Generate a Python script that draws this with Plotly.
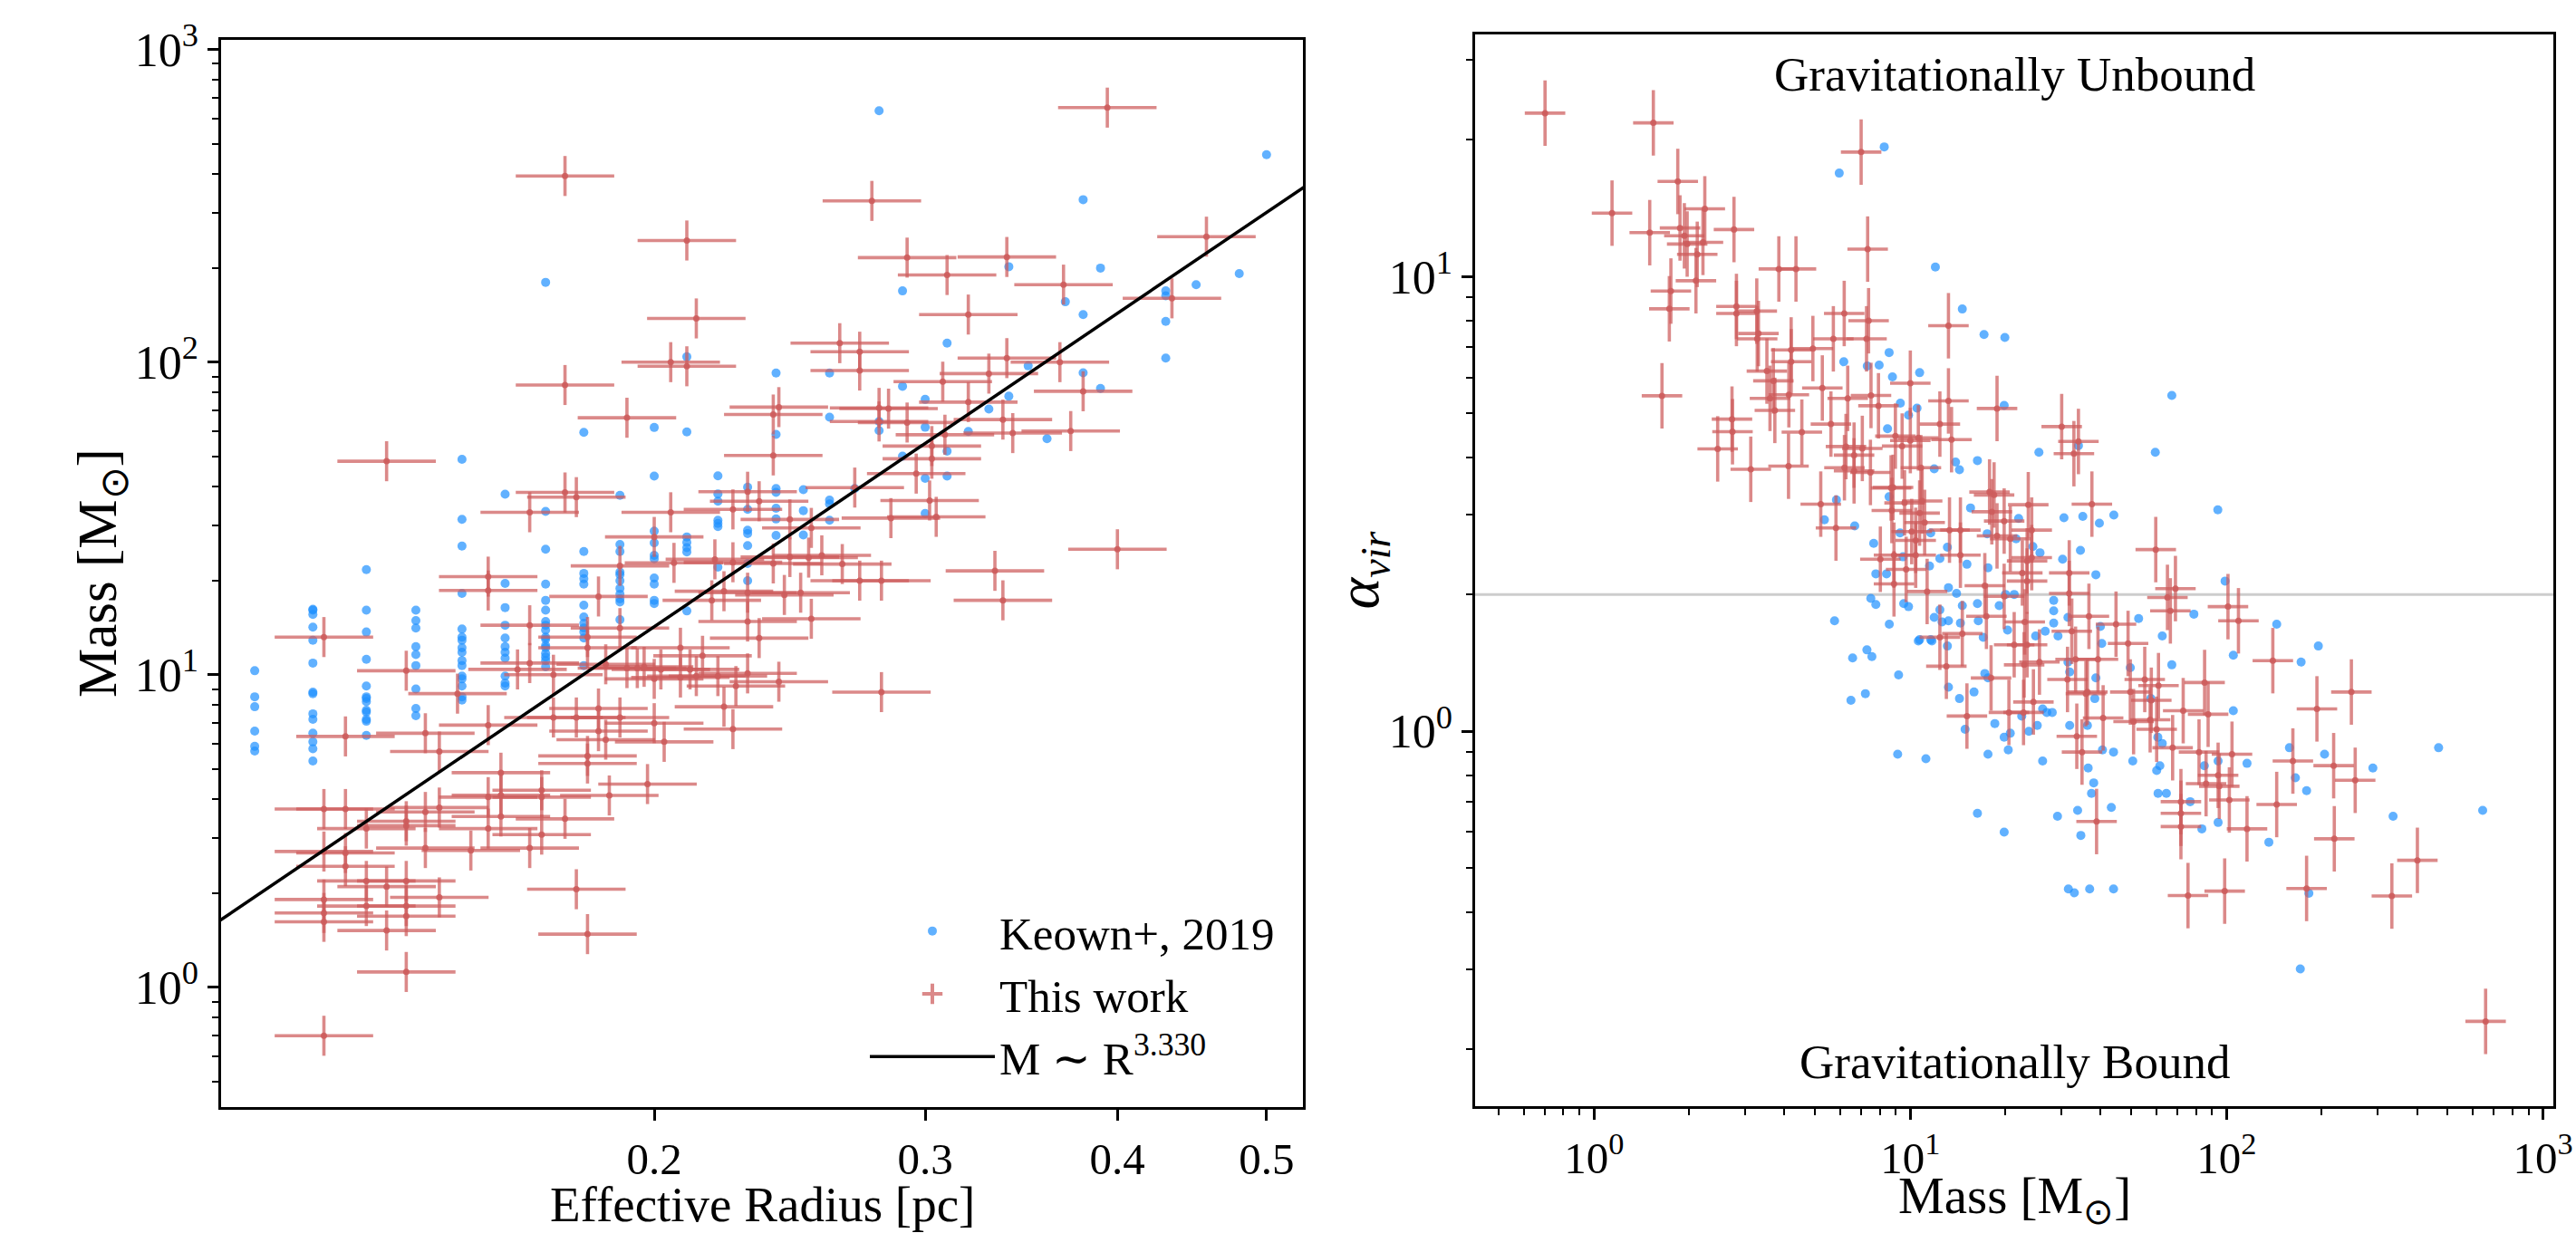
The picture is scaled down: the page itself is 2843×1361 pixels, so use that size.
import numpy as np
import plotly.graph_objects as go

# ---------------- data: left panel (Effective radius vs Mass) ----------------
# Keown+ 2019 cores: radii are quantised in 0.01 pc steps; masses listed per radius column
keown_radius_cols = [0.11, 0.12, 0.13, 0.14, 0.15, 0.16, 0.17, 0.18, 0.19, 0.20,
                     0.21, 0.22, 0.23, 0.24, 0.25, 0.26, 0.27, 0.28, 0.29, 0.30,
                     0.31, 0.32, 0.33, 0.34, 0.35, 0.36, 0.37, 0.38, 0.39, 0.43,
                     0.45, 0.48, 0.50]
keown_mass_cols = [
    [10.3, 8.5, 7.9, 6.6, 5.9, 5.7],
    [16.2, 16.1, 15.6, 14.2, 12.9, 10.9, 8.8, 8.7, 7.5, 7.2, 6.5, 6.1, 5.8, 5.3],
    [21.7, 16.1, 13.7, 11.2, 9.2, 8.5, 8.4, 8.2, 7.7, 7.6, 7.2, 7.1, 6.4],
    [16.1, 14.9, 14.1, 12.3, 11.6, 10.7, 9.0, 7.8, 7.4],
    [48.9, 31.4, 25.8, 18.2, 14.0, 13.2, 12.9, 12.2, 11.8, 11.1, 10.7, 9.9, 9.7, 9.2, 8.5, 8.3],
    [37.8, 19.6, 16.4, 14.4, 13.1, 12.3, 11.8, 11.3, 9.9, 9.4, 9.2],
    [180, 33.3, 25.2, 19.5, 17.3, 16.1, 14.8, 14.4, 13.9, 13.2, 13.0, 12.4, 12.2, 11.7, 11.4, 11.1, 10.6],
    [59.6, 24.8, 21.1, 20.3, 19.5, 16.7, 15.3, 14.6, 14.1, 13.7, 13.1, 10.7],
    [37.5, 26.1, 24.8, 21.3, 20.9, 20.0, 18.9, 18.1, 17.5, 17.1, 15.0],
    [61.8, 43.2, 28.8, 26.4, 24.1, 23.5, 20.4, 19.5, 17.3, 16.9],
    [104, 59.8, 27.6, 26.5, 25.5, 24.7, 16.0],
    [43.3, 37.9, 35.9, 31.2, 30.5, 29.8, 22.1],
    [39.8, 33.8, 29.0, 28.3, 25.9, 22.7, 20.0],
    [92.3, 58.7, 39.4, 38.3, 34.1, 31.5, 27.9],
    [39.1, 33.5, 28.0],
    [92.3, 66.7, 36.2, 35.2, 31.2],
    [39.4],
    [637, 64.6, 60.4],
    [169, 83.7, 50],
    [76, 61.9, 42.5, 32.8],
    [115, 51.9, 43.2],
    [60],
    [70.8],
    [202, 77.8],
    [97.3],
    [56.9],
    [156],
    [331, 142, 92.5],
    [200, 82.4],
    [169, 163, 135, 103],
    [177],
    [192],
    [461],
]

# This work: effective radius [pc] and mass [Msun]
tw_radius = [0.175, 0.210, 0.213, 0.205, 0.210, 0.175, 0.192, 0.134, 0.241, 0.239,
             0.239, 0.264, 0.394, 0.277, 0.457, 0.292, 0.339, 0.310, 0.369, 0.434,
             0.320, 0.272, 0.272, 0.339, 0.367, 0.330, 0.308, 0.380, 0.280, 0.284,
             0.320, 0.292, 0.280, 0.337, 0.342, 0.309, 0.373, 0.303, 0.303, 0.296,
             0.270, 0.302, 0.305, 0.285, 0.400, 0.333, 0.337, 0.175, 0.178, 0.166,
             0.205, 0.200, 0.225, 0.230, 0.234, 0.245, 0.253, 0.190, 0.206, 0.219,
             0.225, 0.239, 0.245, 0.252, 0.257, 0.218, 0.222, 0.230, 0.230, 0.234,
             0.243, 0.249, 0.253, 0.184, 0.156, 0.156, 0.166, 0.190, 0.181, 0.181,
             0.122, 0.138, 0.149, 0.163, 0.166, 0.172, 0.186, 0.192, 0.195, 0.197,
             0.200, 0.202, 0.208, 0.208, 0.211, 0.213, 0.215, 0.220, 0.226, 0.230,
             0.241, 0.222, 0.225, 0.200, 0.203, 0.190, 0.186, 0.184, 0.184, 0.181,
             0.181, 0.178, 0.172, 0.156, 0.159, 0.198, 0.187, 0.169, 0.169, 0.156,
             0.145, 0.145, 0.142, 0.126, 0.122, 0.126, 0.159, 0.159, 0.142, 0.138,
             0.138, 0.130, 0.156, 0.169, 0.175, 0.142, 0.152, 0.166, 0.122, 0.126,
             0.126, 0.130, 0.134, 0.138, 0.145, 0.122, 0.130, 0.138, 0.122, 0.138,
             0.122, 0.134, 0.178, 0.181, 0.138, 0.122, 0.281, 0.281, 0.272, 0.265]
tw_mass = [394, 245, 138, 100, 97, 84.5, 66.4, 48.2, 71.8, 68,
           50.3, 115, 652, 328, 252, 216, 217, 190, 177, 160,
           142, 108, 94, 103, 100, 91.9, 86.6, 80.7, 71.4, 71,
           74.5, 64.1, 64.6, 65.5, 59.3, 58.6, 60.2, 53.9, 49.1, 44.0,
           39.7, 36.1, 32.0, 31.7, 25.2, 21.5, 17.3, 38.3, 37.0, 33.1,
           33.1, 27.6, 33.8, 38.5, 35.9, 31.4, 29.5, 22.3, 22.8, 23.4,
           22.9, 22.7, 23.8, 23.7, 24.1, 17.3, 18.5, 18.3, 14.8, 13.1,
           18.0, 18.3, 15.1, 17.8, 20.6, 18.6, 14.4, 14.1, 13.2, 12.2,
           13.2, 10.3, 8.7, 10.4, 10.9, 10.0, 10.8, 10.5, 10.5, 10.6,
           9.7, 10.4, 12.2, 9.8, 10.4, 9.9, 11.5, 9.9, 9.2, 10.1,
           9.5, 7.9, 6.7, 7.0, 6.1, 7.3, 6.2, 7.8, 6.6, 5.5,
           5.2, 7.3, 7.3, 6.9, 4.86, 4.47, 4.11, 4.27, 4.06, 4.06,
           3.76, 5.68, 6.5, 6.35, 3.72, 3.72, 4.12, 3.52, 3.64, 3.40,
           3.29, 3.22, 3.22, 3.08, 3.46, 2.79, 2.74, 2.79, 2.72, 2.69,
           2.44, 2.19, 2.10, 2.19, 1.94, 1.91, 1.82, 1.82, 1.73, 1.69,
           1.62, 1.52, 2.06, 1.48, 1.12, 0.70, 8.8, 20.0, 20.0, 22.6]

radius_err_dex = 0.032
mass_err_dex = 0.064
fit_exponent = 3.330
fit_norm = 3030.0          # M = fit_norm * R**fit_exponent
fit_radius_span = [0.10, 0.55]

# ---------------- data: right panel (Mass vs virial parameter) ----------------
keown_mass_r = [8.27, 5.96, 12.0, 14.6, 17.1, 8.57, 6.16, 7.31, 7.97, 8.78,
                10.7, 9.30, 10.5, 9.87, 8.47, 11.9, 13.9, 14.3, 16.3, 5.84,
                8.57, 19.9, 19.8, 67.1, 59.5, 25.5, 34.0, 5.35, 6.67, 15.5,
                22.0, 30.6, 35.1, 39.6, 44.0, 34.5, 30.3, 38.6, 25.7, 24.4,
                21.6, 17.5, 15.1, 17.6, 12.4, 13.1, 11.5, 9.28, 7.66, 7.78,
                8.41, 9.48, 11.6, 13.2, 14.0, 16.3, 16.4, 14.6, 19.1, 20.0,
                21.3, 12.4, 11.9, 12.6, 13.2, 14.4, 20.3, 24.9, 26.7, 29.3,
                28.4, 28.4, 28.4, 31.5, 39.9, 40.3, 52.7, 62.6, 67.1, 49.6,
                31.5, 17.2, 9.18, 5.76, 6.57, 7.29, 7.56, 8.58, 7.50, 7.78,
                9.53, 9.87, 10.7, 11.6, 13.1, 17.0, 93.8, 98.9, 78.8, 144,
                195, 172, 105, 38.6, 38.3, 57.6, 36.3, 40.5, 43.9, 50.5,
                60.6, 62.6, 61.5, 85, 94, 105, 116, 158, 204, 468,
                290, 165, 179, 336, 645, 136, 76.7, 83.5, 94, 60.7,
                64.5, 60.1, 43.2, 33.8, 34.6, 29.2, 37.4, 38, 36.5, 26.2,
                17.6, 20.4, 14.9, 18.5, 19.8, 20.7, 23.7, 25.2, 11.2, 16.3,
                19.8, 31.6, 33.0, 36.9, 43.9, 171, 13.2, 14.3, 15.9, 17.6,
                26.2, 27.0, 28.1, 22.5, 31.9, 31.9, 10.6, 11.7, 6.49, 7.21,
                9.12, 182]
keown_alpha = [19.3, 16.9, 10.5, 8.49, 7.46, 6.81, 6.50, 6.36, 6.39, 6.02,
               6.15, 5.27, 5.14, 4.96, 4.63, 3.78, 3.91, 3.76, 3.94, 3.23,
               3.28, 7.35, 5.21, 5.48, 4.11, 4.11, 4.25, 2.92, 2.83, 3.10,
               2.94, 2.95, 2.97, 2.87, 2.99, 2.50, 2.39, 2.21, 2.47, 2.55,
               2.65, 2.72, 2.33, 2.29, 2.40, 2.54, 2.31, 2.73, 2.59, 2.22,
               2.22, 2.42, 2.73, 2.07, 2.01, 1.91, 1.75, 1.89, 1.89, 2.00,
               2.00, 1.85, 1.78, 1.74, 1.75, 1.73, 1.67, 1.62, 1.66, 1.62,
               1.94, 1.84, 1.73, 1.78, 1.70, 1.56, 1.77, 1.62, 1.40, 1.38,
               1.42, 1.34, 1.33, 1.75, 1.45, 1.51, 1.46, 1.72, 1.96, 1.90,
               1.91, 1.88, 1.59, 1.59, 1.54, 1.61, 3.07, 2.14, 1.81, 1.72,
               1.54, 1.42, 1.47, 1.31, 1.18, 1.18, 1.03, 0.91, 0.90, 0.86,
               0.97, 0.94, 0.84, 0.84, 0.86, 1.11, 0.85, 0.92, 0.89, 0.92,
               0.83, 0.79, 0.74, 0.65, 0.67, 0.57, 0.70, 0.61, 0.63, 0.73,
               0.73, 0.82, 0.68, 0.67, 0.59, 0.65, 0.73, 0.77, 0.83, 0.86,
               0.89, 0.91, 1.01, 1.04, 0.97, 0.99, 1.00, 1.03, 0.87, 0.66,
               0.60, 0.45, 0.441, 0.45, 0.45, 0.30, 1.25, 1.18, 1.22, 1.31,
               1.12, 1.10, 1.10, 1.08, 1.03, 1.35, 1.58, 1.58, 1.17, 1.21,
               0.89, 0.44]

tw_mass_r = [0.70, 1.54, 1.84, 1.14, 1.50, 1.87, 1.93, 1.97, 2.24, 2.21,
             2.12, 2.10, 1.75, 1.73, 2.77, 6.99, 7.33, 3.84, 4.35, 1.64,
             2.82, 2.82, 3.27, 3.31, 3.28, 6.18, 5.71, 7.38, 7.27, 13.2,
             4.20, 4.92, 4.20, 3.52, 3.69, 3.60, 4.13, 3.73, 5.27, 6.34,
             7.51, 7.93, 10.0, 13.2, 12.4, 13.5, 5.61, 4.54, 2.73, 2.74,
             2.46, 3.13, 4.12, 6.26, 6.64, 7.05, 7.48, 6.64, 6.19, 10.0,
             10.6, 10.8, 8.82, 5.21, 18.8, 8.97, 9.42, 8.69, 9.59, 10.9,
             5.82, 17.8, 18.4, 18.1, 19.8, 23.6, 24.2, 18.8, 20.7, 23.4,
             24.2, 22.6, 23.4, 30.1, 34.0, 32.9, 37.5, 31.8, 31.8, 36.7,
             32.4, 44.7, 48.8, 59.7, 65.0, 66.4, 39.2, 23.4, 21.3, 22.9,
             25.6, 14.6, 13.0, 12.4, 17.2, 19.8, 23.0, 17.4, 14.4, 13.3,
             14.4, 11.3, 10.4, 10.1, 10.7, 11.1, 10.4, 8.88, 8.88, 9.70,
             8.04, 8.74, 68.9, 101, 109, 140, 36.3, 49.6, 55.1, 60.9,
             57.8, 85.2, 72.9, 87.4, 40.7, 50.8, 57.3, 60.1, 67.5, 81.8,
             104, 162, 218, 193, 248, 255, 144, 219, 401, 333,
             179, 98.6, 75.5, 659, 116, 71.7, 71.7, 71.7, 102, 94.8,
             86.1, 94, 38.8, 34.9, 33.6, 35.9, 33.3, 31.4, 18.0, 20.5,
             22.8, 24.5, 15.1]
tw_alpha = [22.9, 21.8, 16.2, 13.8, 12.5, 12.8, 12.3, 11.8, 14.1, 11.9,
            11.2, 9.8, 9.3, 8.5, 12.7, 18.8, 11.5, 10.4, 10.4, 5.47,
            8.6, 8.3, 8.4, 7.5, 7.3, 8.3, 7.3, 8.0, 7.3, 7.8,
            6.9, 6.95, 6.5, 6.2, 5.9, 5.4, 5.5, 5.08, 5.69, 5.4,
            5.48, 5.2, 5.83, 5.33, 4.74, 4.38, 4.74, 4.55, 4.86, 4.56,
            4.18, 3.77, 3.83, 4.23, 4.05, 4.19, 3.71, 3.74, 3.80, 4.36,
            4.42, 3.80, 3.44, 3.16, 5.13, 4.46, 4.24, 3.43, 3.18, 3.21,
            2.80, 3.36, 3.31, 3.04, 2.90, 3.15, 2.77, 2.69, 2.65, 2.37,
            2.41, 2.23, 2.14, 4.68, 4.34, 4.08, 3.16, 2.23, 2.01, 1.79,
            1.66, 1.72, 1.56, 2.51, 1.97, 1.84, 1.44, 1.55, 1.55, 1.40,
            1.42, 1.64, 1.39, 1.61, 2.09, 1.98, 1.74, 1.79, 2.77, 2.77,
            2.44, 2.03, 2.44, 2.75, 3.02, 2.88, 2.63, 2.44, 2.11, 2.27,
            2.39, 3.06, 2.06, 1.88, 1.75, 1.43, 1.22, 1.22, 1.30, 1.26,
            1.17, 1.28, 1.11, 1.09, 1.07, 1.05, 1.06, 1.01, 0.92, 0.90,
            0.89, 0.86, 0.84, 1.12, 1.22, 0.78, 0.69, 0.58, 0.52, 0.434,
            0.451, 0.445, 0.435, 0.230, 0.61, 0.617, 0.66, 0.70, 0.706, 0.757,
            0.767, 0.80, 0.633, 0.90, 0.975, 1.21, 1.44, 1.30, 1.31, 1.10,
            1.10, 1.16, 1.08]
mass_err_dex_r = 0.064
alpha_err_dex = 0.072
alpha_threshold = 2.0

# tick labels
left_x_ticks = [0.2, 0.3, 0.4, 0.5]
left_x_ticktext = ["0.2", "0.3", "0.4", "0.5"]
decade_ticks = [1, 10, 100, 1000]
decade_text = ["10<sup>0</sup>", "10<sup>1</sup>", "10<sup>2</sup>", "10<sup>3</sup>"]

# ---------------- styling ----------------
FONT = "Liberation Serif"
BLUE = "rgba(30,144,255,0.70)"
RED_BAR = "rgba(205,92,92,0.72)"
RED_DOT = "rgba(205,92,92,0.88)"


def minor_log(lo, hi):
    vals = []
    for e in range(int(np.floor(lo)) - 1, int(np.ceil(hi)) + 1):
        for m in range(2, 10):
            v = m * 10.0 ** e
            if 10 ** lo <= v <= 10 ** hi:
                vals.append(v)
    return vals


def log_err(vals, dex):
    v = np.asarray(vals, dtype=float)
    return v * (10 ** dex - 1), v * (1 - 10 ** (-dex))


keown_radius = [r for r, ms in zip(keown_radius_cols, keown_mass_cols) for _ in ms]
keown_mass = [m for ms in keown_mass_cols for m in ms]

fig = go.Figure()

# left panel
fig.add_trace(go.Scatter(
    x=keown_radius, y=keown_mass, mode="markers", name="Keown+, 2019",
    marker=dict(size=10, color=BLUE, line=dict(width=0)),
    xaxis="x", yaxis="y", showlegend=True))

ex_p, ex_m = log_err(tw_radius, radius_err_dex)
ey_p, ey_m = log_err(tw_mass, mass_err_dex)
fig.add_trace(go.Scatter(
    x=tw_radius, y=tw_mass, mode="markers", name="This work",
    marker=dict(size=7, color=RED_DOT, line=dict(width=0)),
    error_x=dict(type="data", symmetric=False, array=ex_p, arrayminus=ex_m,
                 thickness=3.6, width=0, color=RED_BAR),
    error_y=dict(type="data", symmetric=False, array=ey_p, arrayminus=ey_m,
                 thickness=3.6, width=0, color=RED_BAR),
    xaxis="x", yaxis="y", showlegend=False))
# legend proxy for "This work"
fig.add_trace(go.Scatter(
    x=[None], y=[None], mode="markers", name="This work",
    marker=dict(symbol="cross-thin", size=16, color=RED_BAR,
                line=dict(width=4, color=RED_BAR)),
    xaxis="x", yaxis="y", showlegend=True))

fit_r = np.geomspace(fit_radius_span[0], fit_radius_span[1], 60)
fig.add_trace(go.Scatter(
    x=fit_r, y=fit_norm * fit_r ** fit_exponent, mode="lines",
    name="M ∼ R<sup>%.3f</sup>" % fit_exponent,
    line=dict(color="black", width=3.5), xaxis="x", yaxis="y", showlegend=True))

# right panel
fig.add_trace(go.Scatter(
    x=keown_mass_r, y=keown_alpha, mode="markers", name="Keown+, 2019",
    marker=dict(size=10, color=BLUE, line=dict(width=0)),
    xaxis="x2", yaxis="y2", showlegend=False))
mx_p, mx_m = log_err(tw_mass_r, mass_err_dex_r)
ay_p, ay_m = log_err(tw_alpha, alpha_err_dex)
fig.add_trace(go.Scatter(
    x=tw_mass_r, y=tw_alpha, mode="markers", name="This work",
    marker=dict(size=7, color=RED_DOT, line=dict(width=0)),
    error_x=dict(type="data", symmetric=False, array=mx_p, arrayminus=mx_m,
                 thickness=3.6, width=0, color=RED_BAR),
    error_y=dict(type="data", symmetric=False, array=ay_p, arrayminus=ay_m,
                 thickness=3.6, width=0, color=RED_BAR),
    xaxis="x2", yaxis="y2", showlegend=False))

# ---------------- layout (pixel geometry of the 2843x1361 canvas) ----------------
W, H = 2843, 1361
ML, MR, MT, MB = 244, 25, 38, 139
PW, PH = W - ML - MR, H - MT - MB


def fx(px):   # canvas x pixel -> plot-area fraction
    return (px - ML) / PW


def fy(py):   # canvas y pixel (from top) -> plot-area fraction
    return (H - MB - py) / PH


left_xr = [np.log10(0.1046), np.log10(0.528)]
left_yr = [-0.383, 3.031]
right_xr = [-0.376, 3.033]
right_yr = [np.log10(0.1497), 1.533]

common = dict(type="log", showgrid=False, zeroline=False, showline=True,
              linecolor="black", linewidth=2.5, mirror=True, ticks="outside",
              ticklen=12, tickwidth=2.5, tickcolor="black", automargin=False,
              tickfont=dict(family=FONT, size=52, color="black"))
xtickfont = dict(family=FONT, size=49, color="black")
minor_style = dict(ticks="outside", ticklen=7, tickwidth=2, tickcolor="black")

fig.update_layout(
    width=W, height=H, margin=dict(l=ML, r=MR, t=MT, b=MB, autoexpand=False),
    paper_bgcolor="white", plot_bgcolor="white",
    font=dict(family=FONT, color="black"),
    xaxis=dict(common, domain=[fx(244), fx(1438)], range=left_xr, anchor="y",
               tickvals=left_x_ticks, ticktext=left_x_ticktext, tickfont=xtickfont),
    yaxis=dict(common, domain=[fy(1222), fy(44)], range=left_yr, anchor="x",
               tickvals=decade_ticks, ticktext=decade_text,
               minor=dict(minor_style, tickvals=minor_log(*left_yr))),
    xaxis2=dict(common, domain=[fx(1628), fx(2818)], range=right_xr, anchor="y2",
                tickvals=decade_ticks, ticktext=decade_text, tickfont=xtickfont,
                minor=dict(minor_style, tickvals=minor_log(*right_xr))),
    yaxis2=dict(common, domain=[fy(1221), fy(38)], range=right_yr, anchor="x2",
                tickvals=[1, 10], ticktext=["10<sup>0</sup>", "10<sup>1</sup>"],
                minor=dict(minor_style, tickvals=minor_log(*right_yr))),
    legend=dict(x=fx(955), y=fy(988), xanchor="left", yanchor="top",
                bgcolor="rgba(0,0,0,0)", borderwidth=0, itemwidth=138,
                font=dict(family=FONT, size=51, color="black"),
                tracegroupgap=0),
    showlegend=True,
)

fig.add_shape(type="line", xref="x2 domain", yref="y2", x0=0, x1=1,
              y0=alpha_threshold, y1=alpha_threshold,
              line=dict(color="rgb(205,205,205)", width=3), layer="below")

# axis titles (placed as annotations for exact positioning)
title_font = dict(family=FONT, size=55, color="black")
fig.add_annotation(text="Effective Radius [pc]", xref="x domain", yref="paper",
                   x=0.5, y=fy(1361), showarrow=False, xanchor="center", yanchor="bottom",
                   borderpad=0, font=title_font)
fig.add_annotation(text="Mass [M<sub>⊙</sub>]", xref="x2 domain", yref="paper",
                   x=0.5, y=fy(1361), showarrow=False, xanchor="center", yanchor="bottom",
                   borderpad=0, font=dict(title_font, size=57))
fig.add_annotation(text="Mass [M<sub>⊙</sub>]", xref="paper", yref="y domain",
                   x=fx(112), y=0.5, showarrow=False, xanchor="center", yanchor="middle",
                   textangle=-90, font=dict(title_font, size=61))
fig.add_annotation(text="<i>α</i><sub><i>vir</i></sub>", xref="paper", yref="y2 domain",
                   x=fx(1503), y=0.5, showarrow=False, xanchor="center", yanchor="middle",
                   textangle=-90, font=dict(title_font, size=66))

fig.add_annotation(text="Gravitationally Unbound", xref="x2 domain", yref="paper",
                   x=0.5, y=fy(82), showarrow=False, xanchor="center", yanchor="middle",
                   font=dict(family=FONT, size=53, color="black"))
fig.add_annotation(text="Gravitationally Bound", xref="x2 domain", yref="paper",
                   x=0.5, y=fy(1172), showarrow=False, xanchor="center", yanchor="middle",
                   font=dict(family=FONT, size=53, color="black"))

fig.write_html("out.html", config={"displayModeBar": False},
               post_script="document.body.style.margin='0';document.body.style.overflow='hidden';")
